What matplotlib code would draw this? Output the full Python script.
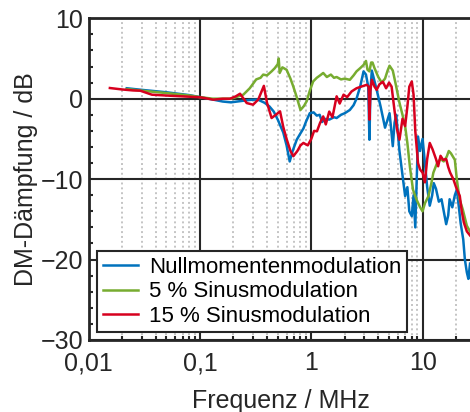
import matplotlib
matplotlib.use("Agg")
import matplotlib.pyplot as plt
from matplotlib.ticker import FixedLocator, LogLocator, NullFormatter

plt.rcParams['font.family'] = ['Liberation Sans', 'DejaVu Sans']

# Nullmomentenmodulation (blue)
f_null = [0.022, 0.03, 0.05, 0.08, 0.1, 0.13, 0.16, 0.19, 0.23, 0.28, 0.33, 0.38, 0.42, 0.46, 0.5,
          0.56, 0.6, 0.64, 0.68, 0.74, 0.8, 0.85, 0.9, 0.97, 1.05, 1.12, 1.19, 1.25, 1.32, 1.45,
          1.6, 1.69, 1.85, 2.0, 2.22, 2.4, 2.55, 2.75, 2.95, 3.1, 3.25, 3.33, 3.4, 3.5, 3.65,
          3.87, 4.2, 4.6, 4.8, 5.05, 5.2, 5.4, 5.6, 5.8, 6.2, 6.6, 6.97, 7.3, 7.6, 8.0,
          8.3, 8.6, 9.1, 9.5, 10.0, 10.5, 11.0, 11.6, 12.2, 12.6, 13.2, 14.0, 14.8, 15.5, 16.3,
          17.0, 17.5, 18.5, 19.5, 20.3, 21.0, 22.0, 23.2, 24.0, 25.0, 25.8, 26.7]
db_null = [1.3, 1.1, 0.8, 0.45, 0.2, -0.1, -0.35, -0.45, -0.3, -0.15, -0.1, -0.5, -0.95, -1.6, -2.6,
           -4.2, -5.8, -7.8, -6.5, -5.1, -4.3, -3.7, -2.8, -1.8, -1.7, -2.1, -2.0, -2.9, -2.5, -2.6,
           -2.3, -2.4, -2.0, -1.8, -1.4, -0.8, 0.0, 1.5, 3.4, 3.0, 1.5, -5.1, 1.0, 3.5, 2.5,
           1.1, -1.0, -3.6, -2.8, -1.8, -3.5, -5.9, -3.0, -2.0, -6.5, -9.5, -12.1, -11.0, -14.0, -14.6,
           -12.0, -16.0, -4.7, -6.5, -5.0, -8.0, -11.0, -13.3, -12.0, -10.5, -11.2, -12.8, -12.5, -14.0, -15.6,
           -14.5, -12.5, -13.5, -12.0, -11.3, -13.0, -15.5, -17.5, -20.0, -21.6, -22.4, -20.5]

# 5 % Sinusmodulation (green)
f_sin5 = [0.022, 0.03, 0.05, 0.08, 0.1, 0.13, 0.19, 0.245, 0.28, 0.32, 0.35, 0.37, 0.4, 0.44, 0.47,
          0.5, 0.51, 0.52, 0.55, 0.6, 0.65, 0.69, 0.74, 0.8, 0.86, 0.91, 0.97, 1.04, 1.12, 1.2,
          1.28, 1.38, 1.5, 1.6, 1.69, 1.85, 2.0, 2.22, 2.4, 2.55, 2.75, 2.95, 3.1, 3.2, 3.33,
          3.45, 3.55, 3.7, 4.0, 4.3, 4.6, 4.85, 5.05, 5.4, 5.8, 6.2, 6.6, 6.97, 7.3, 7.7,
          8.2, 8.8, 9.5, 10.0, 10.5, 11.3, 12.0, 12.5, 13.5, 14.5, 15.5, 16.5, 17.2, 18.0, 19.5,
          20.3, 21.5, 23.0, 25.0, 26.7]
db_sin5 = [1.2, 1.0, 0.7, 0.4, 0.2, 0.0, 0.0, 0.5, 1.3, 2.4, 2.6, 3.0, 2.9, 3.4, 3.8,
           4.3, 5.0, 3.2, 3.9, 3.6, 2.5, 1.5, 0.2, -1.4, -0.9, -0.3, 1.0, 2.15, 2.6, 2.9,
           3.2, 2.7, 3.0, 2.6, 2.7, 2.4, 2.5, 2.35, 2.9, 3.4, 3.8, 4.2, 4.7, 3.6, 3.4,
           4.5, 4.5, 3.8, 2.7, 2.0, 2.5, 3.5, 4.1, 3.5, 1.5, -0.5, -2.0, -3.4, -5.5, -8.5,
           -11.3, -12.5, -13.5, -14.0, -13.0, -12.1, -10.5, -9.2, -8.0, -7.5, -7.8, -7.2, -6.5, -6.8, -7.6,
           -10.0, -12.5, -13.8, -15.8, -16.5]

# 15 % Sinusmodulation (red)
f_sin15 = [0.0155, 0.02, 0.025, 0.029, 0.037, 0.054, 0.1, 0.132, 0.16, 0.186, 0.21, 0.229, 0.263, 0.3, 0.334,
           0.36, 0.375, 0.4, 0.44, 0.48, 0.524, 0.56, 0.6, 0.65, 0.69, 0.75, 0.8, 0.85, 0.93, 1.0,
           1.06, 1.125, 1.2, 1.28, 1.35, 1.45, 1.55, 1.69, 1.8, 1.95, 2.1, 2.3, 2.55, 2.8, 3.15,
           3.28, 3.33, 3.4, 3.5, 3.7, 3.87, 4.1, 4.4, 4.7, 5.0, 5.27, 5.6, 5.9, 6.2, 6.6,
           6.97, 7.3, 7.6, 8.0, 8.3, 8.6, 9.1, 9.5, 10.0, 10.5, 11.0, 11.6, 12.3, 13.2, 13.8,
           14.5, 15.3, 16.3, 17.0, 17.7, 18.9, 20.0, 21.6, 22.5, 23.5, 25.0, 26.7]
db_sin15 = [1.33, 1.15, 1.03, 1.0, 0.5, 0.37, 0.18, -0.12, 0.0, 0.0, 0.3, 0.62, -0.54, -0.74, -0.1,
            1.0, 1.6, -0.5, -2.4, -2.0, -1.57, -3.5, -5.0, -6.5, -7.15, -6.5, -5.8, -5.5, -5.8, -5.0,
            -4.0, -4.05, -3.0, -2.2, -3.2, -1.6, -2.3, 0.3, -0.6, 0.5, 0.2, 0.9, 1.3, 1.5, 1.73,
            1.5, -2.6, 1.0, 2.35, 1.5, 1.1, 1.8, 2.1, 1.3, 2.0, 1.5, -1.5, -3.8, -5.1, -2.5,
            -3.4, -1.0, 1.5, 2.15, 0.5, -4.0, -8.0, -8.8, -9.2, -10.4, -7.5, -5.5, -6.3, -7.5, -8.4,
            -7.1, -7.6, -7.5, -8.5, -9.2, -10.0, -11.0, -12.1, -14.0, -15.4, -16.5, -17.0]

labels = ["Nullmomentenmodulation", "5 % Sinusmodulation", "15 % Sinusmodulation"]
colors = ["#0072BD", "#77AC30", "#D7001E"]

fig = plt.figure(figsize=(4.7, 4.12), dpi=100)
ax = fig.add_axes([0.1887, 0.1748, 0.817, 0.7808])

ax.semilogx(f_null, db_null, color=colors[0], lw=1.8, label=labels[0])
ax.semilogx(f_sin5, db_sin5, color=colors[1], lw=1.8, label=labels[1])
ax.semilogx(f_sin15, db_sin15, color=colors[2], lw=1.8, label=labels[2])

ax.set_xlim(0.01, 28.2)
ax.set_ylim(-30, 10)

# grid: major solid, minor x dotted
ax.xaxis.set_major_locator(FixedLocator([0.01, 0.1, 1, 10]))
ax.set_xticklabels(["0,01", "0,1", "1", "10"])
ax.xaxis.set_minor_locator(LogLocator(base=10, subs=range(2, 10)))
ax.xaxis.set_minor_formatter(NullFormatter())
ax.set_yticks([-30, -20, -10, 0, 10])
ax.yaxis.set_minor_locator(FixedLocator(range(-30, 11, 2)))

ax.grid(which="major", color="#262626", lw=1.5, ls="-")
ax.grid(which="minor", axis="x", color="#c4c4c4", lw=1.4, ls=(0, (1, 1.5)))
ax.set_axisbelow(True)

for s in ax.spines.values():
    s.set_linewidth(2)
    s.set_color("#262626")

ax.tick_params(which="both", direction="in", labelsize=18, colors="#262626", labelcolor="#262626")
ax.tick_params(which="major", length=0)
ax.tick_params(axis="x", which="major", pad=8)
ax.tick_params(axis="y", which="major", pad=4)
ax.tick_params(which="minor", length=3, width=1.5)

ax.set_xlabel("Frequenz / MHz", fontsize=18, color="#262626", labelpad=10)
ax.set_ylabel("DM-Dämpfung / dB", fontsize=18, color="#262626", labelpad=2)

leg = ax.legend(loc="lower left", bbox_to_anchor=(0.022, 0.024), borderaxespad=0,
                fontsize=16, fancybox=False, framealpha=1, edgecolor="#262626",
                handlelength=1.6, handletextpad=0.5, borderpad=0.25, labelspacing=0.15)
leg.get_frame().set_linewidth(1.5)

fig.savefig("out.png", dpi=100)
